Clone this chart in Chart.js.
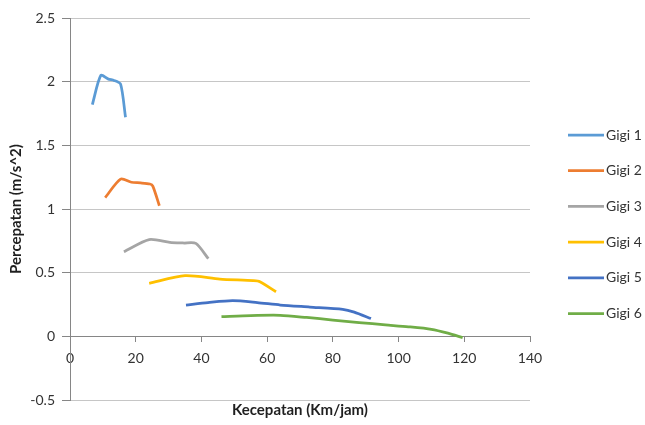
<!DOCTYPE html>
<html>
<head>
<meta charset="utf-8">
<script src="https://cdn.jsdelivr.net/npm/chart.js@4"></script>
<style>
  html, body { margin: 0; padding: 0; background: #ffffff; }
  #wrap { width: 645px; height: 425px; position: relative; }
</style>
</head>
<body>
<div id="wrap"><canvas id="chart"></canvas></div>
<script>
// Gear labels
const seriesNames = ['Gigi 1', 'Gigi 2', 'Gigi 3', 'Gigi 4', 'Gigi 5', 'Gigi 6'];
const seriesColors = ['#5B9BD5', '#ED7D31', '#A5A5A5', '#FFC000', '#4472C4', '#70AD47'];

// Speed (km/h) per gear
const speedGigi1 = [6.8, 9.4, 11.7, 13.4, 15.4, 16.9];
const speedGigi2 = [10.7, 15.4, 18.7, 21.5, 24.3, 25.2, 27.2];
const speedGigi3 = [16.4, 24.1, 30.4, 34.5, 38.3, 42.1];
const speedGigi4 = [24.1, 35.0, 45.6, 55.8, 57.8, 62.7];
const speedGigi5 = [35.3, 42.0, 49.5, 57.0, 64.0, 73.0, 83.0, 86.5, 91.6];
const speedGigi6 = [46.1, 55.0, 64.0, 72.0, 80.0, 88.0, 96.0, 103.0, 110.0, 115.0, 119.5];

// Acceleration (m/s^2) per gear
const accelGigi1 = [1.82, 2.05, 2.02, 2.01, 1.98, 1.72];
const accelGigi2 = [1.09, 1.235, 1.21, 1.205, 1.196, 1.18, 1.026];
const accelGigi3 = [0.665, 0.76, 0.738, 0.733, 0.73, 0.61];
const accelGigi4 = [0.416, 0.476, 0.45, 0.437, 0.429, 0.35];
const accelGigi5 = [0.246, 0.265, 0.28, 0.265, 0.246, 0.23, 0.212, 0.19, 0.14];
const accelGigi6 = [0.154, 0.163, 0.165, 0.148, 0.128, 0.108, 0.09, 0.075, 0.055, 0.025, -0.01];

// Axis ticks
const xTicks = [0, 20, 40, 60, 80, 100, 120, 140];
const yTicks = [-0.5, 0, 0.5, 1, 1.5, 2, 2.5];

const speeds = [speedGigi1, speedGigi2, speedGigi3, speedGigi4, speedGigi5, speedGigi6];
const accels = [accelGigi1, accelGigi2, accelGigi3, accelGigi4, accelGigi5, accelGigi6];

const FONT = 'Lato, "Open Sans", sans-serif';

const datasets = seriesNames.map((name, i) => ({
  label: name,
  data: speeds[i].map((x, k) => ({ x: x, y: accels[i][k] })),
  borderColor: seriesColors[i],
  backgroundColor: seriesColors[i],
  borderWidth: 2.75,
  pointRadius: 0,
  tension: 0.25,
  showLine: true,
  fill: false
}));

// Legend on the right and the horizontal axis title below the plot
const extras = {
  id: 'extras',
  afterDraw(chart) {
    const ctx = chart.ctx;
    const area = chart.chartArea;
    ctx.save();
    // x-axis title
    ctx.font = 'bold 15px ' + FONT;
    ctx.fillStyle = '#1f1f1f';
    ctx.textAlign = 'center';
    ctx.textBaseline = 'middle';
    ctx.fillText('Kecepatan (Km/jam)', (area.left + area.right) / 2, 410);
    // legend
    ctx.font = '14px ' + FONT;
    ctx.textAlign = 'left';
    ctx.fillStyle = '#333333';
    chart.data.datasets.forEach((ds, i) => {
      const y = 135 + i * 35.7;
      ctx.strokeStyle = ds.borderColor;
      ctx.lineWidth = 2.75;
      ctx.beginPath();
      ctx.moveTo(568, y);
      ctx.lineTo(604, y);
      ctx.stroke();
      ctx.fillText(ds.label, 606, y);
    });
    ctx.restore();
  }
};

new Chart(document.getElementById('chart'), {
  type: 'scatter',
  data: { datasets: datasets },
  plugins: [extras],
  options: {
    responsive: true,
    maintainAspectRatio: false,
    animation: false,
    layout: { padding: { top: 18, bottom: 25, right: 115, left: 0 } },
    plugins: {
      legend: { display: false },
      tooltip: { enabled: false }
    },
    scales: {
      x: {
        type: 'linear',
        position: { y: 0 },
        min: 0,
        max: 140,
        afterBuildTicks(scale) { scale.ticks = xTicks.map(v => ({ value: v })); },
        ticks: {
          padding: 9,
          color: '#333333',
          font: { family: FONT, size: 14 },
          callback: v => String(v)
        },
        grid: {
          drawOnChartArea: false,
          drawTicks: true,
          tickLength: 5,
          tickColor: '#868686'
        },
        border: { display: true, color: '#868686', width: 1 }
      },
      y: {
        type: 'linear',
        position: 'left',
        min: -0.5,
        max: 2.5,
        afterBuildTicks(scale) { scale.ticks = yTicks.map(v => ({ value: v })); },
        afterFit(scale) { scale.width = 70; },
        ticks: {
          padding: 7,
          color: '#333333',
          font: { family: FONT, size: 14 },
          callback: v => String(v)
        },
        grid: {
          color: '#c6c6c6',
          lineWidth: 1,
          drawTicks: true,
          tickLength: 8,
          tickColor: '#868686'
        },
        border: { display: true, color: '#868686', width: 1 },
        title: {
          display: true,
          text: 'Percepatan (m/s^2)',
          color: '#1f1f1f',
          font: { family: FONT, size: 15, weight: 'bold' },
          padding: { top: 7, bottom: 0 }
        }
      }
    }
  }
});
</script>
</body>
</html>
